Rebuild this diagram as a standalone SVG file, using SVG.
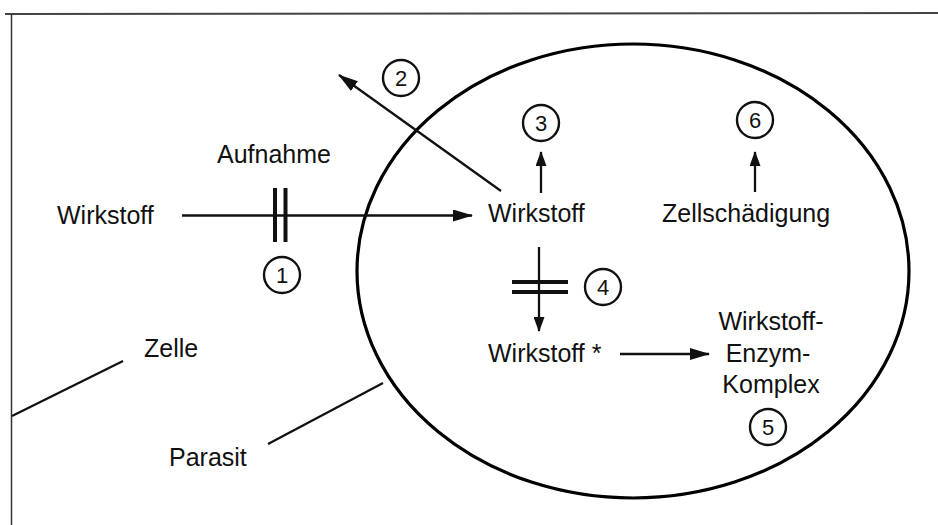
<svg xmlns="http://www.w3.org/2000/svg" width="938" height="525" viewBox="0 0 938 525">
  <style>
    .lbl { font-family: "Liberation Sans", Arial, sans-serif; font-size: 25px; fill: #111; }
    .num { font-family: "Liberation Sans", Arial, sans-serif; font-size: 22px; fill: #111; text-anchor: middle; }
    .ring { fill: none; stroke: #111; stroke-width: 2.4; }
    .conn { stroke: #111; stroke-width: 2.3; fill: none; }
    .arr { marker-end: url(#head); }
    .arrs { marker-end: url(#headSmall); }
    .bar { stroke: #111; stroke-width: 4; }
    .lead { stroke: #111; stroke-width: 2.3; }
  </style>
  <defs>
    <marker id="head" viewBox="0 0 20 12" refX="19" refY="6" markerWidth="20" markerHeight="12" markerUnits="userSpaceOnUse" orient="auto">
      <path d="M0,0 L20,6 L0,12 z" fill="#111"/>
    </marker>
    <marker id="headSmall" viewBox="0 0 15 11" refX="14" refY="5.5" markerWidth="15" markerHeight="11" markerUnits="userSpaceOnUse" orient="auto">
      <path d="M0,0 L15,5.5 L0,11 z" fill="#111"/>
    </marker>
  </defs>

  <rect width="938" height="525" fill="#fff"/>

  <!-- frame -->
  <g id="frame">
    <line x1="5" y1="14" x2="938" y2="13" stroke="#444" stroke-width="2"/>
    <line x1="11.5" y1="14" x2="11.5" y2="525" stroke="#333" stroke-width="1.5"/>
  </g>

  <!-- parasite body -->
  <g id="parasit-body">
    <ellipse cx="633" cy="271" rx="276" ry="227" fill="none" stroke="#000" stroke-width="3.2"/>
  </g>

  <!-- connectors -->
  <g id="connectors">
    <line class="conn arr" x1="182" y1="215.5" x2="472" y2="215.5"/>
    <line class="conn arr" x1="501" y1="191" x2="339" y2="75"/>
    <line class="conn arrs" x1="541" y1="193" x2="541" y2="152"/>
    <line class="conn arrs" x1="539" y1="247" x2="539" y2="331"/>
    <line class="conn arr" x1="620" y1="354" x2="709" y2="354"/>
    <line class="conn arrs" x1="755" y1="192" x2="755" y2="152"/>
    <!-- uptake block -->
    <line class="bar" x1="275" y1="188" x2="275" y2="242"/>
    <line class="bar" x1="285.5" y1="188" x2="285.5" y2="242"/>
    <!-- activation block -->
    <line class="bar" x1="512" y1="282" x2="568" y2="282"/>
    <line class="bar" x1="512" y1="292" x2="568" y2="292"/>
    <!-- leader lines -->
    <line class="lead" x1="12" y1="416" x2="123" y2="361"/>
    <line class="lead" x1="268" y1="444" x2="383" y2="383"/>
  </g>

  <!-- labels -->
  <g id="wirkstoff-aussen"><text class="lbl" x="57" y="224">Wirkstoff</text></g>
  <g id="aufnahme"><text class="lbl" x="217" y="163">Aufnahme</text></g>
  <g id="wirkstoff-innen"><text class="lbl" x="488" y="222">Wirkstoff</text></g>
  <g id="zellschaedigung"><text class="lbl" x="662" y="222">Zellschädigung</text></g>
  <g id="wirkstoff-aktiv"><text class="lbl" x="488" y="362">Wirkstoff *</text></g>
  <g id="komplex">
    <text class="lbl" text-anchor="middle" x="771" y="330">Wirkstoff-</text>
    <text class="lbl" text-anchor="middle" x="768" y="362">Enzym-</text>
    <text class="lbl" text-anchor="middle" x="771" y="393">Komplex</text>
  </g>
  <g id="zelle"><text class="lbl" x="144" y="357">Zelle</text></g>
  <g id="parasit"><text class="lbl" x="169" y="466">Parasit</text></g>

  <!-- step markers -->
  <g id="step1"><circle class="ring" cx="282" cy="275" r="18"/><text class="num" x="282" y="283">1</text></g>
  <g id="step2"><circle class="ring" cx="401" cy="78" r="18"/><text class="num" x="401" y="86">2</text></g>
  <g id="step3"><circle class="ring" cx="541" cy="123" r="18"/><text class="num" x="541" y="131">3</text></g>
  <g id="step4"><circle class="ring" cx="603" cy="287" r="18"/><text class="num" x="603" y="295">4</text></g>
  <g id="step5"><circle class="ring" cx="768" cy="427" r="18"/><text class="num" x="768" y="435">5</text></g>
  <g id="step6"><circle class="ring" cx="755" cy="120" r="18"/><text class="num" x="755" y="128">6</text></g>
</svg>
